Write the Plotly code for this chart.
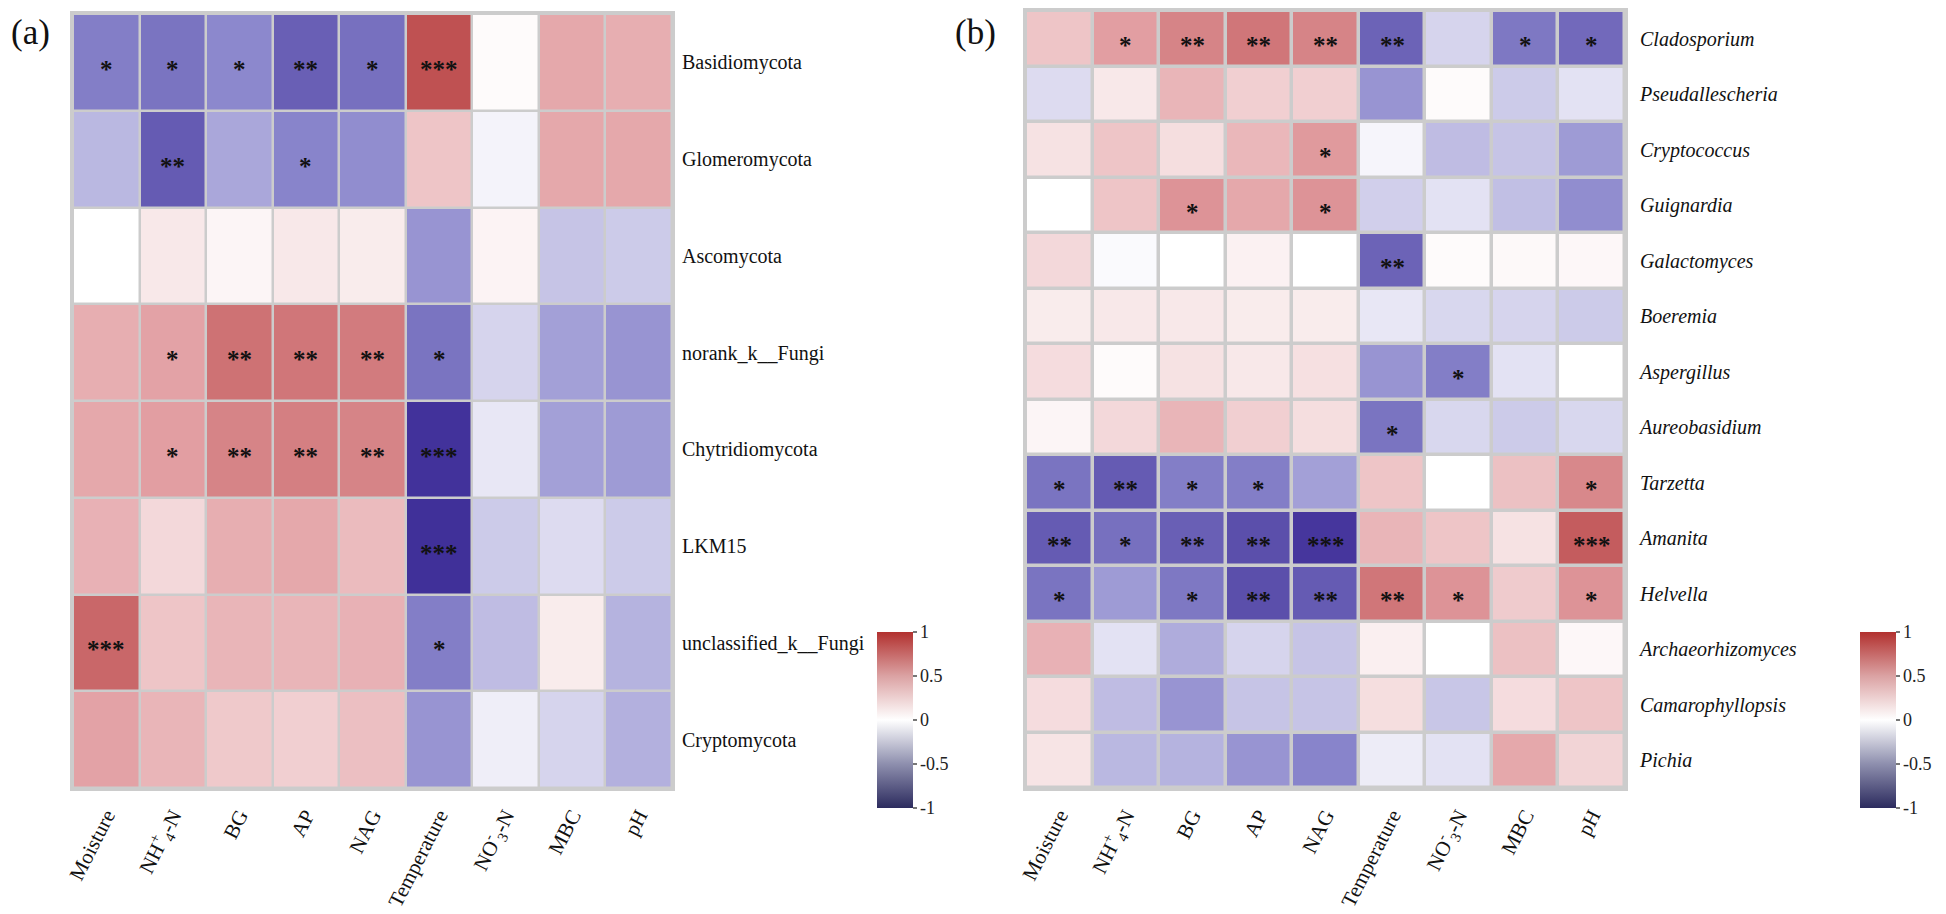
import plotly.graph_objects as go

# ---------------- data ----------------
env_vars = ["Moisture", "NH4+-N", "BG", "AP", "NAG", "Temperature", "NO3--N", "MBC", "pH"]
env_labels = ["Moisture", "NH<sup>+</sup><sub>4</sub>-N", "BG", "AP", "NAG", "Temperature",
              "NO<sup>-</sup><sub>3</sub>-N", "MBC", "pH"]

phyla = ["Basidiomycota", "Glomeromycota", "Ascomycota", "norank_k__Fungi",
         "Chytridiomycota", "LKM15", "unclassified_k__Fungi", "Cryptomycota"]
phyla_r = [
    [-0.55, -0.60, -0.50, -0.70, -0.62, 0.85, 0.02, 0.45, 0.42],
    [-0.30, -0.72, -0.37, -0.52, -0.48, 0.30, -0.05, 0.45, 0.45],
    [0.00, 0.12, 0.05, 0.12, 0.10, -0.45, 0.06, -0.25, -0.22],
    [0.42, 0.48, 0.70, 0.68, 0.66, -0.60, -0.18, -0.40, -0.45],
    [0.45, 0.50, 0.62, 0.64, 0.62, -0.92, -0.10, -0.40, -0.42],
    [0.40, 0.20, 0.42, 0.45, 0.35, -0.93, -0.22, -0.15, -0.22],
    [0.75, 0.30, 0.38, 0.38, 0.40, -0.55, -0.28, 0.10, -0.32],
    [0.48, 0.38, 0.28, 0.25, 0.33, -0.45, -0.07, -0.18, -0.33],
]
phyla_sig = [
    ["*", "*", "*", "**", "*", "***", "", "", ""],
    ["", "**", "", "*", "", "", "", "", ""],
    ["", "", "", "", "", "", "", "", ""],
    ["", "*", "**", "**", "**", "*", "", "", ""],
    ["", "*", "**", "**", "**", "***", "", "", ""],
    ["", "", "", "", "", "***", "", "", ""],
    ["***", "", "", "", "", "*", "", "", ""],
    ["", "", "", "", "", "", "", "", ""],
]

genera = ["Cladosporium", "Pseudallescheria", "Cryptococcus", "Guignardia", "Galactomyces",
          "Boeremia", "Aspergillus", "Aureobasidium", "Tarzetta", "Amanita", "Helvella",
          "Archaeorhizomyces", "Camarophyllopsis", "Pichia"]
genera_r = [
    [0.30, 0.50, 0.62, 0.68, 0.62, -0.68, -0.18, -0.58, -0.65],
    [-0.15, 0.12, 0.38, 0.25, 0.25, -0.45, 0.02, -0.22, -0.12],
    [0.15, 0.30, 0.17, 0.37, 0.52, -0.04, -0.28, -0.25, -0.42],
    [0.00, 0.30, 0.55, 0.45, 0.55, -0.20, -0.12, -0.27, -0.48],
    [0.20, -0.02, 0.00, 0.07, 0.00, -0.68, 0.02, 0.03, 0.04],
    [0.10, 0.12, 0.12, 0.10, 0.10, -0.10, -0.17, -0.18, -0.22],
    [0.18, 0.02, 0.15, 0.12, 0.16, -0.45, -0.55, -0.12, 0.00],
    [0.05, 0.20, 0.38, 0.25, 0.17, -0.60, -0.17, -0.22, -0.17],
    [-0.60, -0.72, -0.55, -0.55, -0.40, 0.30, 0.00, 0.32, 0.60],
    [-0.72, -0.62, -0.70, -0.78, -0.90, 0.38, 0.30, 0.15, 0.80],
    [-0.60, -0.42, -0.58, -0.78, -0.72, 0.68, 0.55, 0.27, 0.55],
    [0.40, -0.12, -0.35, -0.18, -0.25, 0.08, 0.00, 0.32, 0.04],
    [0.18, -0.28, -0.45, -0.25, -0.25, 0.17, -0.24, 0.18, 0.30],
    [0.14, -0.30, -0.32, -0.45, -0.52, -0.08, -0.12, 0.45, 0.22],
]
genera_sig = [
    ["", "*", "**", "**", "**", "**", "", "*", "*"],
    ["", "", "", "", "", "", "", "", ""],
    ["", "", "", "", "*", "", "", "", ""],
    ["", "", "*", "", "*", "", "", "", ""],
    ["", "", "", "", "", "**", "", "", ""],
    ["", "", "", "", "", "", "", "", ""],
    ["", "", "", "", "", "", "*", "", ""],
    ["", "", "", "", "", "*", "", "", ""],
    ["*", "**", "*", "*", "", "", "", "", "*"],
    ["**", "*", "**", "**", "***", "", "", "", "***"],
    ["*", "", "*", "**", "**", "**", "*", "", "*"],
    ["", "", "", "", "", "", "", "", ""],
    ["", "", "", "", "", "", "", "", ""],
    ["", "", "", "", "", "", "", "", ""],
]

cb_ticks = [1, 0.5, 0, -0.5, -1]
cb_ticktext = ["1", "0.5", "0", "-0.5", "-1"]

# ---------------- styling ----------------
W, H = 1946, 914
SERIF = "Liberation Serif, Times New Roman, serif"
cell_scale = [[0.0, "#342291"], [0.25, "#8C88CD"], [0.5, "#FFFFFF"],
              [0.75, "#E29EA2"], [1.0, "#B03030"]]
bar_scale = [[0.0, "#2C2B5E"], [0.25, "#8E8FAE"], [0.5, "#FFFFFF"],
             [0.75, "#DBA2A3"], [1.0, "#B2312F"]]
GRID = "#CCCCCC"


def px_x(v):
    return v / W


def px_y(v):
    return 1 - v / H


fig = go.Figure()

fig.add_trace(go.Heatmap(z=phyla_r, x=env_vars, y=phyla, zmin=-1, zmax=1,
                         colorscale=cell_scale, showscale=False, xgap=2.5, ygap=2.5,
                         xaxis="x", yaxis="y", hoverinfo="skip"))
fig.add_trace(go.Heatmap(z=genera_r, x=env_vars, y=genera, zmin=-1, zmax=1,
                         colorscale=cell_scale, showscale=False, xgap=3.5, ygap=3.5,
                         xaxis="x2", yaxis="y2", hoverinfo="skip"))

# colourbars (separate scale as drawn in the reference legend)
for xa, ya, xpos in [("x", "y", 869), ("x2", "y2", 1852)]:
    fig.add_trace(go.Scatter(
        x=[None], y=[None], mode="markers", xaxis=xa, yaxis=ya, showlegend=False,
        marker=dict(color=[0], colorscale=bar_scale, cmin=-1, cmax=1, showscale=True,
                    colorbar=dict(x=px_x(xpos), xanchor="left", y=px_y(712), yanchor="middle",
                                  xpad=0, ypad=0,
                                  thickness=36, len=176, lenmode="pixels",
                                  outlinewidth=0, ticks="outside", ticklen=4,
                                  tickcolor="#777777", tickwidth=1.5,
                                  tickvals=cb_ticks, ticktext=cb_ticktext,
                                  tickfont=dict(family=SERIF, size=18, color="#222222")))))

# significance stars
annotations = []
for rows, sig, xa, ya in [(phyla, phyla_sig, "x", "y"), (genera, genera_sig, "x2", "y2")]:
    for i, r in enumerate(rows):
        for j, c in enumerate(env_vars):
            if sig[i][j]:
                annotations.append(dict(x=c, y=r, xref=xa, yref=ya, text=sig[i][j],
                                        showarrow=False, yshift=-7,
                                        font=dict(family=SERIF, size=25, color="#111111",
                                                  weight="bold")))

annotations.append(dict(x=0.0005, y=0.997, xref="paper", yref="paper", xanchor="left",
                        yanchor="top", text="(a)", showarrow=False,
                        font=dict(family=SERIF, size=35, color="#111111")))
annotations.append(dict(x=px_x(945), y=0.997, xref="paper", yref="paper", xanchor="left",
                        yanchor="top", text="(b)", showarrow=False,
                        font=dict(family=SERIF, size=35, color="#111111")))

xcommon = dict(tickangle=-63, tickvals=env_vars, ticktext=env_labels,
               tickfont=dict(family=SERIF, size=21, color="#111111"),
               showline=True, linecolor=GRID, linewidth=3, mirror=True, automargin=False,
               showgrid=False, zeroline=False, ticks="", ticklabelstandoff=4)
ycommon = dict(side="right", autorange="reversed", showline=True, linecolor=GRID,
               linewidth=3, mirror=True, showgrid=False, zeroline=False, ticks="",
               automargin=False)

fig.update_layout(
    width=W, height=H,
    margin=dict(l=0, r=0, t=0, b=0, autoexpand=False),
    paper_bgcolor="white",
    plot_bgcolor=GRID,
    showlegend=False,
    xaxis=dict(domain=[px_x(65), px_x(664)], anchor="y", **xcommon),
    yaxis=dict(domain=[px_y(780), px_y(6)], anchor="x", ticklabelstandoff=3,
               tickfont=dict(family=SERIF, size=20, color="#111111"), **ycommon),
    xaxis2=dict(domain=[px_x(1018), px_x(1617)], anchor="y2", **xcommon),
    yaxis2=dict(domain=[px_y(780), px_y(3)], anchor="x2", ticklabelstandoff=8,
                tickfont=dict(family=SERIF, size=20, color="#111111", style="italic"),
                **ycommon),
    annotations=annotations,
)

fig.write_html("out.html")
